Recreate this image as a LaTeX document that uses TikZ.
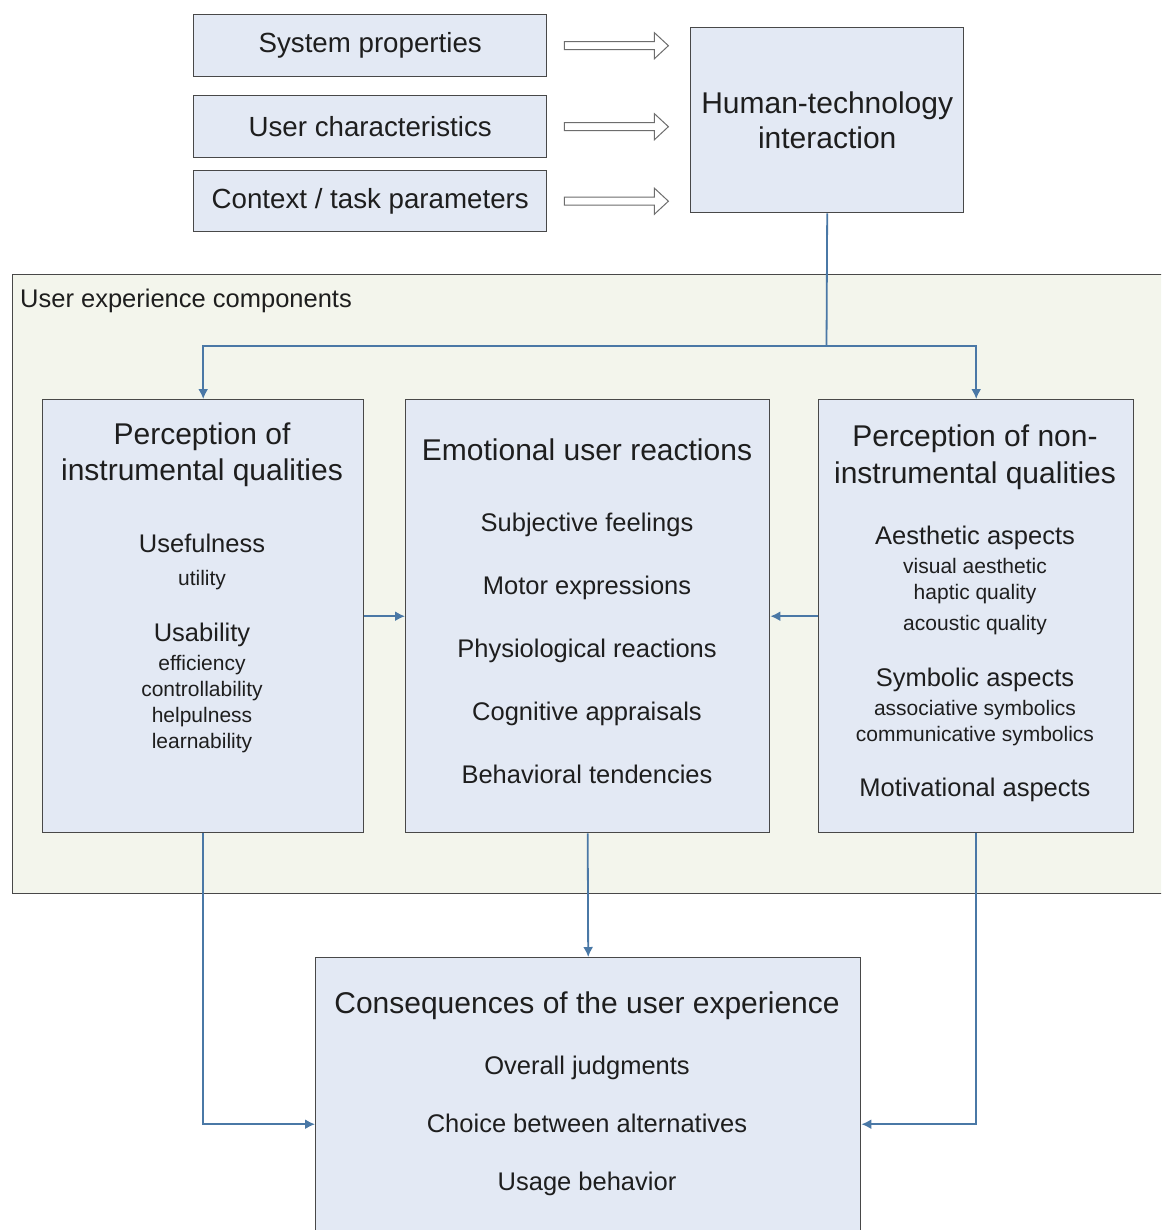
\documentclass[tikz,border=0pt]{standalone}
\usepackage{fontspec}
\setmainfont{Liberation Sans}
\usetikzlibrary{arrows.meta,positioning,calc}
\definecolor{boxfill}{HTML}{E3E9F4}
\definecolor{panel}{HTML}{F3F5EC}
\definecolor{boxline}{HTML}{484848}
\definecolor{link}{HTML}{4A78A6}
\definecolor{ink}{HTML}{1E1E1E}
\tikzstyle{box}=[draw=boxline,fill=boxfill,line width=1.4pt,inner sep=0pt,anchor=north west,text=ink]
\tikzstyle{head}=[text=ink,inner sep=0pt,font=\fontsize{30}{36}\selectfont,text height=1.35em,text depth=0em]
\tikzstyle{item}=[text=ink,inner sep=0pt,font=\fontsize{25.5}{30}\selectfont,text height=1.35em,text depth=0em]
\tikzstyle{sub}=[text=ink,inner sep=0pt,font=\fontsize{21}{25}\selectfont,text height=1.35em,text depth=0em]
\tikzstyle{flow}=[draw=link,line width=1.8pt,-{Latex[length=10pt,width=10pt]}]
\tikzstyle{hollow}=[draw=boxline!80,fill=white,line width=1pt]

\begin{document}
\begin{tikzpicture}[x=1pt,y=-1pt]
\clip (0,0) rectangle (1161,1230);
\fill[white] (0,0) rectangle (1161,1230);

% inputs
\node[box,minimum width=353pt,minimum height=62pt,font=\fontsize{27.7}{33}\selectfont] (sys) at (193,14) {System properties};
\node[box,minimum width=353pt,minimum height=62pt,font=\fontsize{27.7}{33}\selectfont] (usr) at (193,95) {User characteristics};
\node[box,minimum width=353pt,minimum height=61pt,font=\fontsize{27.7}{33}\selectfont] (ctx) at (193,170) {Context / task parameters};
\node[box,minimum width=273pt,minimum height=185pt,align=center,font=\fontsize{30}{35}\selectfont] (hti) at (690,27) {Human-technology\\interaction};

\foreach \n in {sys,usr,ctx}
  \draw[hollow] ([xshift=17pt,yshift=4pt]\n.east) -- ++(90,0) -- ++(0,-9) -- ++(14,13)
    -- ++(-14,13) -- ++(0,-9) -- ++(-90,0) -- cycle;

% components
\node[draw=boxline,fill=panel,line width=1.4pt,inner sep=0pt,anchor=north west,
  minimum width=1170pt,minimum height=619pt] (uxc) at (12,274) {};
\node[item,anchor=west] (uxlabel) at (20,301) {User experience components};

\node[box,minimum width=321pt,minimum height=433pt] (instr) at (42,399) {};
\node[box,minimum width=364pt,minimum height=433pt] (emo) at (405,399) {};
\node[box,minimum width=315pt,minimum height=433pt] (noninstr) at (818,399) {};

\node[head] (instr1) at (202,438) {Perception of};
\node[head] (instr2) at (202,474) {instrumental qualities};
\node[item] (useful) at (202,546) {Usefulness};
\node[sub] (utility) at (202,579) {utility};
\node[item] (usab) at (202,635) {Usability};
\foreach \y/\t [count=\i] in {664/efficiency,690/controllability,716/helpulness,742/learnability}
  \node[sub] (usab\i) at (202,\y) {\t};

\node[head] (emo0) at (587,454) {Emotional user reactions};
\foreach \y/\t [count=\i] in {525/Subjective feelings,588/Motor expressions,651/Physiological reactions,714/Cognitive appraisals,777/Behavioral tendencies}
  \node[item] (emo\i) at (587,\y) {\t};

\node[head] (non1) at (975,440) {Perception of non-};
\node[head] (non2) at (975,477) {instrumental qualities};
\node[item] (aest) at (975,538) {Aesthetic aspects};
\node[sub] (aest1) at (975,567) {visual aesthetic};
\node[sub] (aest2) at (975,593) {haptic quality};
\node[sub] (aest3) at (975,624) {acoustic quality};
\node[item] (symb) at (975,680) {Symbolic aspects};
\node[sub] (symb1) at (975,709) {associative symbolics};
\node[sub] (symb2) at (975,735) {communicative symbolics};
\node[item] (motiv) at (975,790) {Motivational aspects};

% consequences
\node[box,minimum width=545pt,minimum height=333pt] (cons) at (315,957) {};
\node[head] (cons0) at (587,1007) {Consequences of the user experience};
\foreach \y/\t [count=\i] in {1068/Overall judgments,1126/Choice between alternatives,1184/Usage behavior}
  \node[item] (cons\i) at (587,\y) {\t};

% connectors
\coordinate (split) at (826.5,346);
\draw[flow,-] (hti.south) -- (split);
\draw[flow] (split) -| (instr.north);
\draw[flow] (split) -| (noninstr.north);
\draw[flow] (instr.east) -- (emo.west);
\draw[flow] (noninstr.west) -- (emo.east);
\draw[flow] (emo.south) -- (cons.north);
\draw[flow] (instr.south) |- (cons.west);
\draw[flow] (noninstr.south) |- (cons.east);
\end{tikzpicture}
\end{document}
